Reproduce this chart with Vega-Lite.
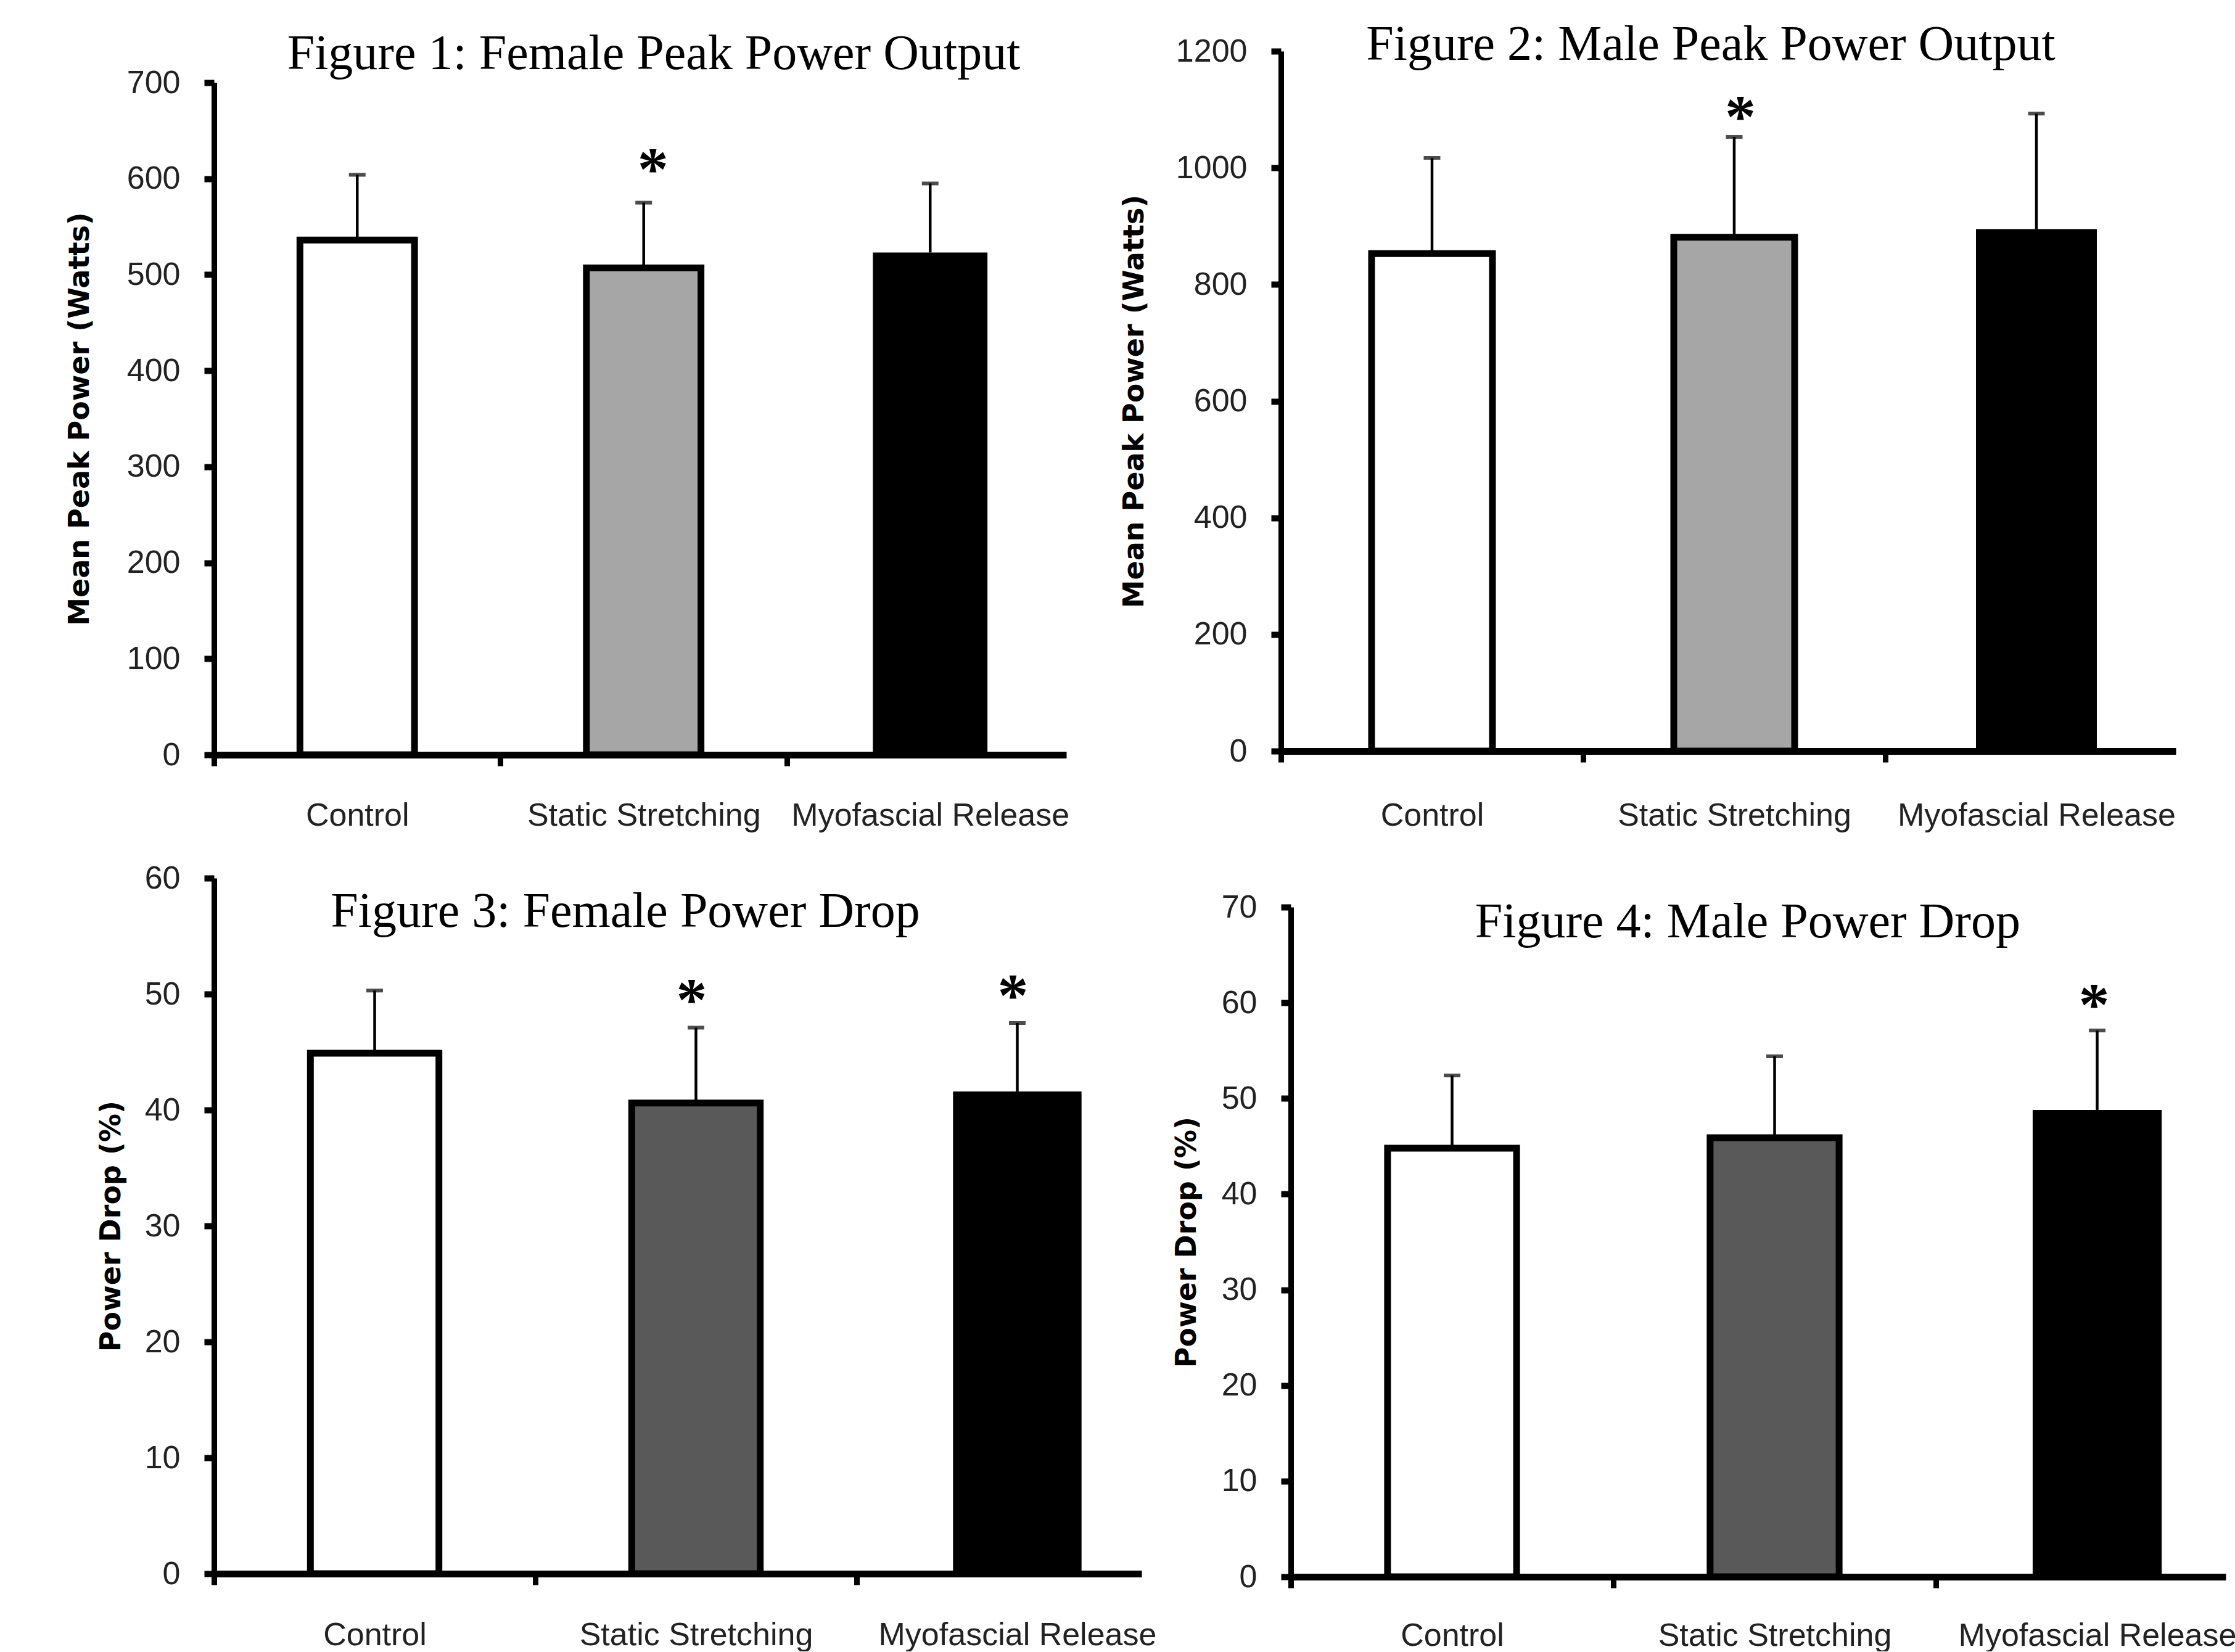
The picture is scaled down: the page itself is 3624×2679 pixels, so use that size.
{
  "$schema": "https://vega.github.io/schema/vega-lite/v6.json",
  "background": "white",
  "padding": {"left": 106, "top": 33, "right": 0, "bottom": 0},
  "config": {
    "view": {"stroke": null},
    "font": "Liberation Sans",
    "axisX": {
      "domainWidth": 11, "domainColor": "black", "tickColor": "black", "tickWidth": 9, "tickSize": 18,
      "labelFont": "Liberation Sans", "labelFontSize": 52, "labelColor": "#222222", "labelLimit": 2000,
      "labelAngle": 0, "title": null, "grid": false, "zindex": 1
    },
    "axisY": {
      "domainWidth": 9, "domainColor": "black", "tickColor": "black", "tickWidth": 10, "tickSize": 16,
      "labelFont": "Liberation Sans", "labelFontSize": 52, "labelColor": "#222222", "labelLimit": 2000,
      "labelPadding": 39, "grid": false, "zindex": 1, "format": "d",
      "titleFont": "DejaVu Sans", "titleFontSize": 46, "titleFontWeight": "bold", "titleColor": "black"
    },
    "title": {"font": "Liberation Serif", "fontSize": 80, "fontWeight": "normal", "color": "black", "anchor": "middle", "frame": "group"}
  },
  "data": {"values": [
    {"fig": 1, "group": "Control", "mean": 536, "upper": 604, "sig": ""},
    {"fig": 1, "group": "Static Stretching", "mean": 507, "upper": 575, "sig": "*"},
    {"fig": 1, "group": "Myofascial Release", "mean": 523, "upper": 595, "sig": ""},
    {"fig": 2, "group": "Control", "mean": 853, "upper": 1017, "sig": ""},
    {"fig": 2, "group": "Static Stretching", "mean": 881, "upper": 1053, "sig": "*"},
    {"fig": 2, "group": "Myofascial Release", "mean": 895, "upper": 1093, "sig": ""},
    {"fig": 3, "group": "Control", "mean": 44.9, "upper": 50.3, "sig": ""},
    {"fig": 3, "group": "Static Stretching", "mean": 40.6, "upper": 47.1, "sig": "*"},
    {"fig": 3, "group": "Myofascial Release", "mean": 41.6, "upper": 47.5, "sig": "*"},
    {"fig": 4, "group": "Control", "mean": 44.8, "upper": 52.4, "sig": ""},
    {"fig": 4, "group": "Static Stretching", "mean": 45.9, "upper": 54.4, "sig": ""},
    {"fig": 4, "group": "Myofascial Release", "mean": 48.8, "upper": 57.1, "sig": "*"}
  ]},
  "columns": 2,
  "align": "none",
  "spacing": {"row": 50, "column": -59},
  "resolve": {"scale": {"x": "independent", "y": "independent", "fill": "independent"}},
  "concat": [
    {
      "width": 1382, "height": 1141,
      "title": {"text": "Figure 1: Female Peak Power Output", "offset": -46, "dx": 22},
      "transform": [{"filter": "datum.fig === 1"}],
      "encoding": {
        "x": {"field": "group", "type": "nominal",
          "scale": {"domain": ["Control", "Static Stretching", "Myofascial Release"], "paddingInner": 0.6, "paddingOuter": 0.2876, "align": 0.5215},
          "axis": {"tickOffset": -232.25, "labelOffset": 232.25, "labelPadding": 55}}
      },
      "layer": [
        {"mark": {"type": "bar", "stroke": "black"},
         "encoding": {
           "y": {"field": "mean", "type": "quantitative", "scale": {"domain": [0, 700], "range": [1141, 51], "nice": false},
             "axis": {"values": [0, 100, 200, 300, 400, 500, 600, 700], "title": "Mean Peak Power (Watts)", "titlePadding": 51.3}},
           "fill": {"field": "group", "type": "nominal", "scale": {"domain": ["Control", "Static Stretching", "Myofascial Release"], "range": ["#ffffff", "#a6a6a6", "#000000"]}, "legend": null},
           "strokeWidth": {"condition": {"test": "datum.group === 'Myofascial Release'", "value": 0}, "value": 11}
         }},
        {"mark": {"type": "rule", "color": "black", "strokeWidth": 4.5},
         "encoding": {"y": {"field": "mean", "type": "quantitative", "scale": {"domain": [0, 700], "range": [1141, 51], "nice": false},
             "axis": {"values": [0, 100, 200, 300, 400, 500, 600, 700], "title": "Mean Peak Power (Watts)", "titlePadding": 51.3}}, "y2": {"field": "upper"}}},
        {"mark": {"type": "tick", "color": "black", "size": 27, "thickness": 6},
         "encoding": {"y": {"field": "upper", "type": "quantitative", "scale": {"domain": [0, 700], "range": [1141, 51], "nice": false},
             "axis": {"values": [0, 100, 200, 300, 400, 500, 600, 700], "title": "Mean Peak Power (Watts)", "titlePadding": 51.3}}}},
        {"mark": {"type": "text", "font": "Liberation Serif", "fontWeight": "bold", "fontSize": 100, "baseline": "alphabetic", "dy": -22, "dx": 15, "color": "black"},
         "encoding": {"y": {"field": "upper", "type": "quantitative", "scale": {"domain": [0, 700], "range": [1141, 51], "nice": false},
             "axis": {"values": [0, 100, 200, 300, 400, 500, 600, 700], "title": "Mean Peak Power (Watts)", "titlePadding": 51.3}}, "text": {"field": "sig"}}}
      ]
    },
    {
      "width": 1451, "height": 1135,
      "title": {"text": "Figure 2: Male Peak Power Output", "offset": -57, "dx": -28.5},
      "transform": [{"filter": "datum.fig === 2"}],
      "encoding": {
        "x": {"field": "group", "type": "nominal",
          "scale": {"domain": ["Control", "Static Stretching", "Myofascial Release"], "paddingInner": 0.6, "paddingOuter": 0.2806, "align": 0.5345},
          "axis": {"tickOffset": -245, "labelOffset": 245, "labelPadding": 61}}
      },
      "layer": [
        {"mark": {"type": "bar", "stroke": "black"},
         "encoding": {
           "y": {"field": "mean", "type": "quantitative", "scale": {"domain": [0, 1200], "nice": false},
             "axis": {"values": [0, 200, 400, 600, 800, 1000, 1200], "title": "Mean Peak Power (Watts)", "titlePadding": 42.4}},
           "fill": {"field": "group", "type": "nominal", "scale": {"domain": ["Control", "Static Stretching", "Myofascial Release"], "range": ["#ffffff", "#a6a6a6", "#000000"]}, "legend": null},
           "strokeWidth": {"condition": {"test": "datum.group === 'Myofascial Release'", "value": 0}, "value": 11}
         }},
        {"mark": {"type": "rule", "color": "black", "strokeWidth": 4.5},
         "encoding": {"y": {"field": "mean", "type": "quantitative", "scale": {"domain": [0, 1200], "nice": false},
             "axis": {"values": [0, 200, 400, 600, 800, 1000, 1200], "title": "Mean Peak Power (Watts)", "titlePadding": 42.4}}, "y2": {"field": "upper"}}},
        {"mark": {"type": "tick", "color": "black", "size": 27, "thickness": 6},
         "encoding": {"y": {"field": "upper", "type": "quantitative", "scale": {"domain": [0, 1200], "nice": false},
             "axis": {"values": [0, 200, 400, 600, 800, 1000, 1200], "title": "Mean Peak Power (Watts)", "titlePadding": 42.4}}}},
        {"mark": {"type": "text", "font": "Liberation Serif", "fontWeight": "bold", "fontSize": 100, "baseline": "alphabetic", "dy": 0, "dx": 10, "color": "black"},
         "encoding": {"y": {"field": "upper", "type": "quantitative", "scale": {"domain": [0, 1200], "nice": false},
             "axis": {"values": [0, 200, 400, 600, 800, 1000, 1200], "title": "Mean Peak Power (Watts)", "titlePadding": 42.4}}, "text": {"field": "sig"}}}
      ]
    },
    {
      "width": 1504, "height": 1128,
      "title": {"text": "Figure 3: Female Power Drop", "offset": -122, "dx": -85},
      "transform": [{"filter": "datum.fig === 3"}],
      "encoding": {
        "x": {"field": "group", "type": "nominal",
          "scale": {"domain": ["Control", "Static Stretching", "Myofascial Release"], "paddingInner": 0.6, "paddingOuter": 0.2434, "align": 0.6163},
          "axis": {"tickOffset": -260.5, "labelOffset": 260.5, "labelPadding": 56}}
      },
      "layer": [
        {"mark": {"type": "bar", "stroke": "black"},
         "encoding": {
           "y": {"field": "mean", "type": "quantitative", "scale": {"domain": [0, 60], "nice": false},
             "axis": {"values": [0, 10, 20, 30, 40, 50, 60], "title": "Power Drop (%)", "titlePadding": 29.2}},
           "fill": {"field": "group", "type": "nominal", "scale": {"domain": ["Control", "Static Stretching", "Myofascial Release"], "range": ["#ffffff", "#595959", "#000000"]}, "legend": null},
           "strokeWidth": {"condition": {"test": "datum.group === 'Myofascial Release'", "value": 0}, "value": 11}
         }},
        {"mark": {"type": "rule", "color": "black", "strokeWidth": 4.5},
         "encoding": {"y": {"field": "mean", "type": "quantitative", "scale": {"domain": [0, 60], "nice": false},
             "axis": {"values": [0, 10, 20, 30, 40, 50, 60], "title": "Power Drop (%)", "titlePadding": 29.2}}, "y2": {"field": "upper"}}},
        {"mark": {"type": "tick", "color": "black", "size": 27, "thickness": 6},
         "encoding": {"y": {"field": "upper", "type": "quantitative", "scale": {"domain": [0, 60], "nice": false},
             "axis": {"values": [0, 10, 20, 30, 40, 50, 60], "title": "Power Drop (%)", "titlePadding": 29.2}}}},
        {"mark": {"type": "text", "font": "Liberation Serif", "fontWeight": "bold", "fontSize": 100, "baseline": "alphabetic", "dy": -12.5, "dx": -7, "color": "black"},
         "encoding": {"y": {"field": "upper", "type": "quantitative", "scale": {"domain": [0, 60], "nice": false},
             "axis": {"values": [0, 10, 20, 30, 40, 50, 60], "title": "Power Drop (%)", "titlePadding": 29.2}}, "text": {"field": "sig"}}}
      ]
    },
    {
      "width": 1516, "height": 1086,
      "title": {"text": ["", "Figure 4: Male Power Drop"], "lineHeight": 58, "align": "right", "offset": -133, "dx": 425,
        "subtitle": "00000000000000000000000000000000000000000000000000000000000000000000000000000000000000000000000000000000000000000000000000000000000000000000000000", "subtitleFont": "Liberation Serif", "subtitleFontSize": 20, "subtitleColor": "transparent", "subtitlePadding": 20},
      "transform": [{"filter": "datum.fig === 4"}],
      "encoding": {
        "x": {"field": "group", "type": "nominal",
          "scale": {"domain": ["Control", "Static Stretching", "Myofascial Release"], "paddingInner": 0.6, "paddingOuter": 0.2493, "align": 0.6016},
          "axis": {"tickOffset": -261.5, "labelOffset": 261.5, "labelPadding": 52}}
      },
      "layer": [
        {"mark": {"type": "bar", "stroke": "black"},
         "encoding": {
           "y": {"field": "mean", "type": "quantitative", "scale": {"domain": [0, 70], "nice": false},
             "axis": {"values": [0, 10, 20, 30, 40, 50, 60, 70], "title": "Power Drop (%)", "titlePadding": 31.2}},
           "fill": {"field": "group", "type": "nominal", "scale": {"domain": ["Control", "Static Stretching", "Myofascial Release"], "range": ["#ffffff", "#595959", "#000000"]}, "legend": null},
           "strokeWidth": {"condition": {"test": "datum.group === 'Myofascial Release'", "value": 0}, "value": 11}
         }},
        {"mark": {"type": "rule", "color": "black", "strokeWidth": 4.5},
         "encoding": {"y": {"field": "mean", "type": "quantitative", "scale": {"domain": [0, 70], "nice": false},
             "axis": {"values": [0, 10, 20, 30, 40, 50, 60, 70], "title": "Power Drop (%)", "titlePadding": 31.2}}, "y2": {"field": "upper"}}},
        {"mark": {"type": "tick", "color": "black", "size": 27, "thickness": 6},
         "encoding": {"y": {"field": "upper", "type": "quantitative", "scale": {"domain": [0, 70], "nice": false},
             "axis": {"values": [0, 10, 20, 30, 40, 50, 60, 70], "title": "Power Drop (%)", "titlePadding": 31.2}}}},
        {"mark": {"type": "text", "font": "Liberation Serif", "fontWeight": "bold", "fontSize": 100, "baseline": "alphabetic", "dy": -9, "dx": -5, "color": "black"},
         "encoding": {"y": {"field": "upper", "type": "quantitative", "scale": {"domain": [0, 70], "nice": false},
             "axis": {"values": [0, 10, 20, 30, 40, 50, 60, 70], "title": "Power Drop (%)", "titlePadding": 31.2}}, "text": {"field": "sig"}}}
      ]
    }
  ]
}
